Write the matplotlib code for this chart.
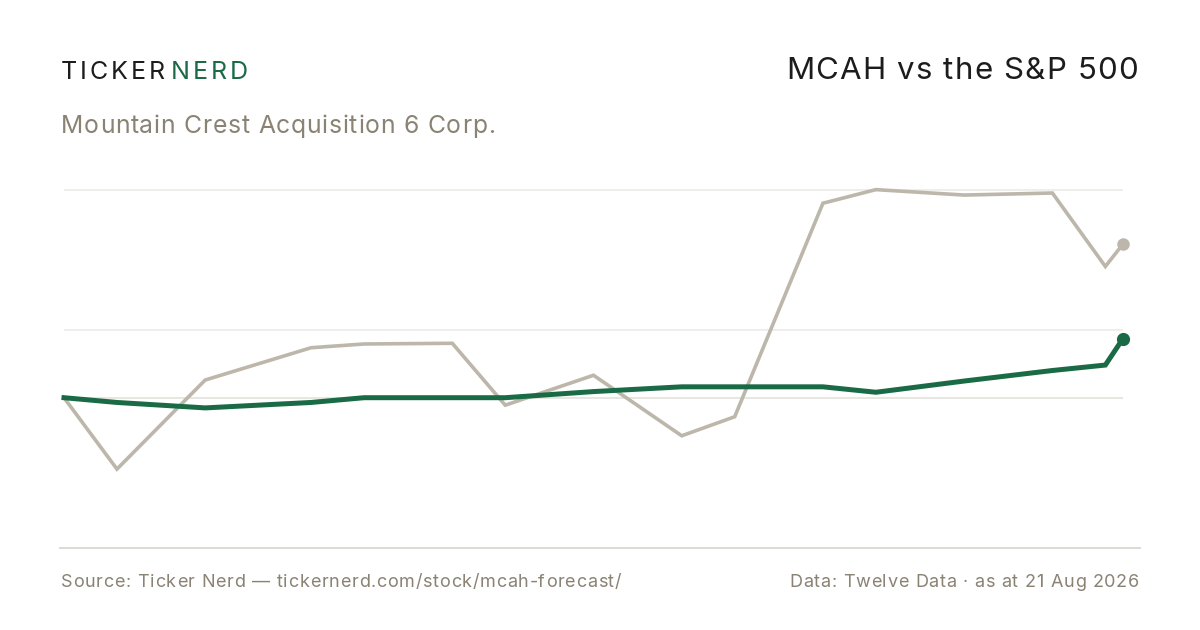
import matplotlib
matplotlib.use("Agg")
import matplotlib.pyplot as plt

plt.rcParams['font.family'] = ['Inter', 'DejaVu Sans']

# ---- data (x = trading-period index, y = % return since start) ----
x_days = [0, 3, 8, 14, 17, 22, 25, 30, 35, 38, 43, 46, 51, 56, 59, 60]
mcah_ret = [0, -10.5, 2.6, 7.35, 7.9, 8.0, -1.1, 3.3, -5.6, -2.8, 28.6, 30.6, 29.8, 30.1, 19.3, 22.6]
spx_ret = [0, -0.7, -1.5, -0.7, 0, 0, 0, 0.9, 1.6, 1.6, 1.6, 0.8, 2.45, 4.0, 4.8, 8.7]
grid_vals = [0, 10, 30.6]

title = "MCAH vs the S&P 500"
subtitle = "Mountain Crest Acquisition 6 Corp."
source = "Source: Ticker Nerd \u2014 tickernerd.com/stock/mcah-forecast/"
data_note = "Data: Twelve Data \u00b7 as at 21 Aug 2026"

GREEN = "#1a6b45"
GRAY = "#bdb7ab"
GRID = "#ecebe6"
AXIS = "#dedbd2"
MUTED = "#8a8374"

W, H = 1200, 630
fig = plt.figure(figsize=(W / 100, H / 100), dpi=100)
fig.patch.set_facecolor("white")

# axes spanning px x 60..1140, y 170..548
ax = fig.add_axes([60 / W, 1 - 548 / H, 1080 / W, (548 - 170) / H])
px_per_x = (1123 - 64) / 60.0
px_per_y = 6.8
ax.set_xlim(-(64 - 60) / px_per_x, 60 + (1140 - 1123) / px_per_x)
ax.set_ylim(-(548 - 397.7) / px_per_y, (397.7 - 170) / px_per_y)

for g in grid_vals:
    ax.hlines(g, x_days[0], x_days[-1], color=GRID if g != 0 else "#e4e2dc", lw=1.2, zorder=1)

ax.plot(x_days, mcah_ret, color=GRAY, lw=2.6, zorder=2, solid_joinstyle="miter")
ax.plot(x_days, spx_ret, color=GREEN, lw=3.6, zorder=3, solid_joinstyle="miter")
ax.plot(x_days[-1], mcah_ret[-1], 'o', color=GRAY, ms=9, zorder=4, mec="none")
ax.plot(x_days[-1], spx_ret[-1], 'o', color=GREEN, ms=9.5, zorder=4, mec="none")

for s in ["top", "left", "right"]:
    ax.spines[s].set_visible(False)
ax.spines["bottom"].set_color(AXIS)
ax.spines["bottom"].set_linewidth(1.4)
ax.set_xticks([])
ax.set_yticks([])
ax.patch.set_alpha(0)

# ---- header / footer text (letter-spaced) ----
def fx(px):
    return px / W

def fy(py):
    return 1 - py / H

renderer = fig.canvas.get_renderer()

def char_widths(text, size):
    ws = []
    for ch in text:
        if ch == " ":
            t = fig.text(0, 0, "n n", fontsize=size)
            t2 = fig.text(0, 0, "nn", fontsize=size)
            w = t.get_window_extent(renderer=renderer).width - t2.get_window_extent(renderer=renderer).width
            t.remove(); t2.remove()
        else:
            t = fig.text(0, 0, ch, fontsize=size)
            w = t.get_window_extent(renderer=renderer).width
            t.remove()
        ws.append(w)
    return ws

def tracked(text, x_px, y_px, size, color, track_px, ha="left"):
    ws = char_widths(text, size)
    total = sum(ws) + track_px * (len(text) - 1)
    cur = x_px if ha == "left" else x_px - total
    for ch, w in zip(text, ws):
        if ch != " ":
            fig.text(fx(cur), fy(y_px), ch, fontsize=size, color=color, va="baseline", ha="left")
        cur += w + track_px
    return cur

end = tracked("TICKER", 61, 79, 18, "#1c1c1c", 2.9)
tracked("NERD", end + 2.5, 79, 18, GREEN, 2.9)

tracked(title, 1138, 79, 22.5, "#1c1c1c", 1.2, ha="right")
tracked(subtitle, 61, 133, 17.8, MUTED, 0.75)

tracked(source, 61, 587, 13.0, MUTED, 0.73)
tracked(data_note, 1139, 587, 13.0, MUTED, 0.71, ha="right")

fig.savefig("out.png", dpi=100, facecolor="white")
